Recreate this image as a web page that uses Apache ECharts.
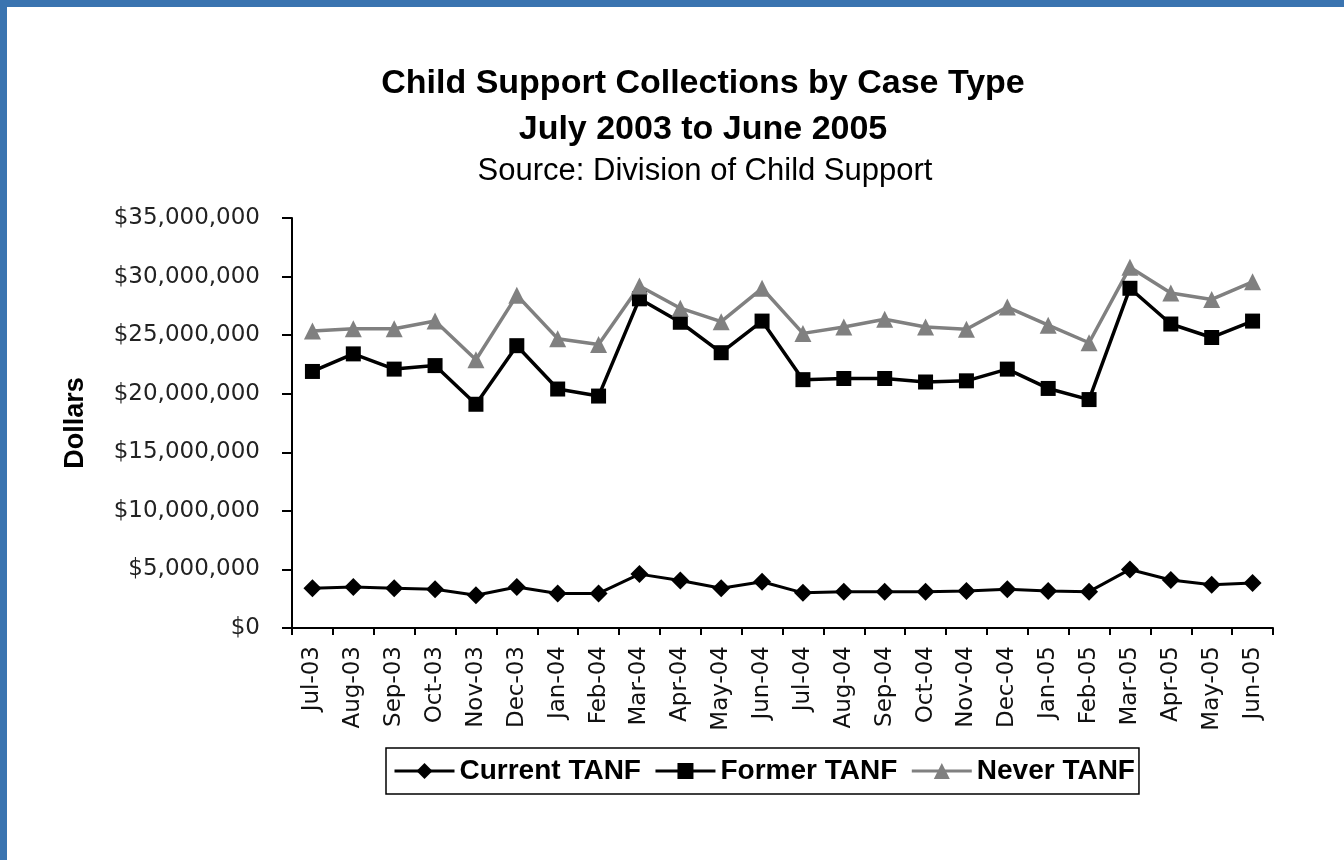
<!DOCTYPE html>
<html>
<head>
<meta charset="utf-8">
<title>Child Support Collections by Case Type</title>
<script src="https://cdn.jsdelivr.net/npm/echarts@6/dist/echarts.min.js"></script>
<style>
  html, body { margin: 0; padding: 0; background: #fff; }
  #main { position: absolute; left: 0; top: 0; width: 1344px; height: 860px; }
  .band-top { position: absolute; left: 0; top: 0; width: 1344px; height: 7px; background: #3a74b0; }
  .band-left { position: absolute; left: 0; top: 0; width: 7px; height: 860px; background: #3a74b0; }
</style>
</head>
<body>
<div id="main"></div>
<div class="band-top"></div>
<div class="band-left"></div>
<script>
  // 月份
  var months = ['Jul-03', 'Aug-03', 'Sep-03', 'Oct-03', 'Nov-03', 'Dec-03',
    'Jan-04', 'Feb-04', 'Mar-04', 'Apr-04', 'May-04', 'Jun-04',
    'Jul-04', 'Aug-04', 'Sep-04', 'Oct-04', 'Nov-04', 'Dec-04',
    'Jan-05', 'Feb-05', 'Mar-05', 'Apr-05', 'May-05', 'Jun-05'];

  // 三条线的数据 (美元)
  var currentTanf = [3400000, 3500000, 3400000, 3300000, 2800000, 3500000,
    2950000, 2950000, 4600000, 4050000, 3400000, 3950000,
    3000000, 3100000, 3100000, 3100000, 3150000, 3300000,
    3150000, 3100000, 5000000, 4100000, 3700000, 3850000];
  var formerTanf = [21900000, 23400000, 22100000, 22400000, 19100000, 24100000,
    20400000, 19800000, 28100000, 26100000, 23500000, 26200000,
    21200000, 21300000, 21300000, 21000000, 21100000, 22100000,
    20450000, 19500000, 29000000, 25950000, 24800000, 26200000];
  var neverTanf = [25350000, 25550000, 25550000, 26200000, 22900000, 28400000,
    24700000, 24200000, 29200000, 27300000, 26150000, 29000000,
    25150000, 25700000, 26350000, 25700000, 25500000, 27400000,
    25850000, 24350000, 30800000, 28600000, 28050000, 29550000];

  var yTicks = { min: 0, max: 35000000, step: 5000000 };

  var font = 'Liberation Sans, Arial, sans-serif';
  // 坐标轴刻度的字比较宽
  var wideFont = 'DejaVu Sans, Verdana, sans-serif';

  function money(v) {
    return '$' + String(v).replace(/\B(?=(\d{3})+(?!\d))/g, ',');
  }

  var myChart = echarts.init(document.getElementById('main'));

  var option = {
    backgroundColor: '#fff',
    animation: false,
    title: [{
      text: 'Child Support Collections by Case Type',
      left: 698, top: 62, textAlign: 'center',
      textStyle: { fontFamily: font, fontSize: 34, fontWeight: 'bold', color: '#000' }
    }, {
      text: 'July 2003 to June 2005',
      left: 698, top: 108, textAlign: 'center',
      textStyle: { fontFamily: font, fontSize: 34, fontWeight: 'bold', color: '#000' }
    }, {
      text: 'Source: Division of Child Support',
      left: 700, top: 151, textAlign: 'center',
      textStyle: { fontFamily: font, fontSize: 31, fontWeight: 'normal', color: '#000' }
    }],
    legend: {
      left: 386, top: 748,
      padding: [8, 4, 8, 7],
      borderColor: '#000',
      borderWidth: 1.5,
      itemWidth: 60,
      itemHeight: 20,
      itemGap: 13,
      lineStyle: { width: 3 },
      textStyle: { fontFamily: font, fontSize: 28, fontWeight: 'bold', color: '#000', lineHeight: 30 },
      data: ['Current TANF', 'Former TANF', 'Never TANF']
    },
    grid: { left: 292, right: 71, top: 218, bottom: 232, containLabel: false },
    xAxis: {
      type: 'category',
      data: months,
      boundaryGap: true,
      axisLine: { lineStyle: { color: '#000', width: 2 } },
      axisTick: { show: true, length: 7, lineStyle: { color: '#000', width: 2 } },
      axisLabel: { rotate: 90, margin: 18, fontFamily: wideFont, fontSize: 23, color: '#111', interval: 0 },
      splitLine: { show: false }
    },
    yAxis: {
      type: 'value',
      min: yTicks.min, max: yTicks.max, interval: yTicks.step,
      name: 'Dollars',
      nameLocation: 'middle',
      nameGap: 203,
      nameRotate: 90,
      nameTextStyle: { fontFamily: font, fontSize: 27, fontWeight: 'bold', color: '#000' },
      axisLine: { show: true, lineStyle: { color: '#000', width: 2 } },
      axisTick: { show: true, length: 10, lineStyle: { color: '#000', width: 2 } },
      axisLabel: { margin: 32, fontFamily: wideFont, fontSize: 23, color: '#222', formatter: money },
      splitLine: { show: false }
    },
    series: [{
      name: 'Current TANF',
      type: 'line',
      data: currentTanf,
      symbol: 'diamond',
      symbolSize: 18,
      itemStyle: { color: '#000' },
      lineStyle: { color: '#000', width: 3 }
    }, {
      name: 'Former TANF',
      type: 'line',
      data: formerTanf,
      symbol: 'rect',
      symbolSize: 15,
      itemStyle: { color: '#000' },
      lineStyle: { color: '#000', width: 3.5 }
    }, {
      name: 'Never TANF',
      type: 'line',
      data: neverTanf,
      symbol: 'triangle',
      symbolSize: 17,
      itemStyle: { color: '#808080' },
      lineStyle: { color: '#808080', width: 3.5 }
    }]
  };

  myChart.setOption(option);
</script>
</body>
</html>
